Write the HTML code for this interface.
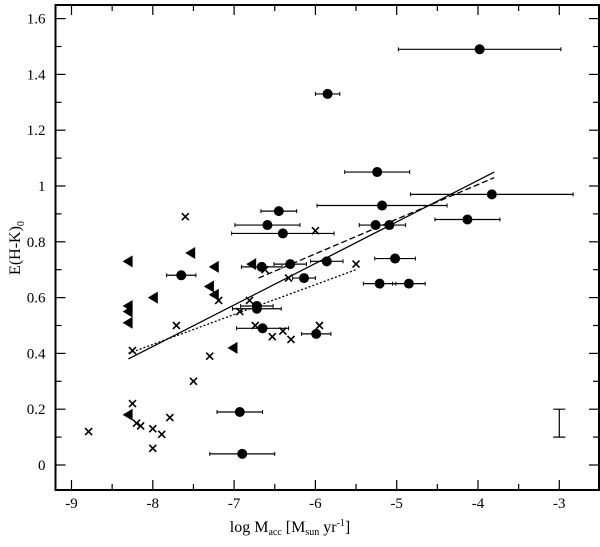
<!DOCTYPE html>
<html><head><meta charset="utf-8"><style>
body{margin:0;background:#fff}
svg text{font-family:"Liberation Serif",serif;fill:#000}
</style></head><body>
<svg id="chart" width="600" height="542" xmlns="http://www.w3.org/2000/svg">
<g id="marks"></g>
<text x="290" y="532" font-size="16" text-anchor="middle">log M<tspan font-size="10" dy="3">acc</tspan><tspan dy="-3"> [M</tspan><tspan font-size="10" dy="3">sun</tspan><tspan dy="-3"> yr</tspan><tspan font-size="10" dy="-6">-1</tspan><tspan dy="6">]</tspan></text>
<text transform="translate(20,248) rotate(-90)" font-size="16" text-anchor="middle">E(H-K)<tspan font-size="10" dy="4">0</tspan></text>
</svg>
<script>
const circX=[-3.98,-5.85,-5.24,-3.83,-5.18,-6.45,-6.59,-6.4,-5.26,-5.09,-4.13,-5.02,-5.86,-6.31,-6.66,-6.14,-5.21,-4.85,-7.65,-6.72,-6.72,-6.65,-5.99,-6.93,-6.9];
const circY=[1.49,1.33,1.05,0.97,0.93,0.91,0.86,0.83,0.86,0.86,0.88,0.74,0.73,0.72,0.71,0.67,0.65,0.65,0.68,0.57,0.56,0.49,0.47,0.19,0.04];
const circErr=[1.0,0.15,0.4,1.0,0.8,0.22,0.4,0.63,0.2,0.2,0.4,0.25,0.2,0.2,0.25,0.14,0.2,0.2,0.18,0.2,0.3,0.32,0.18,0.28,0.4];
const triX=[-8.31,-8.31,-8.31,-8.31,-8.31,-8.0,-7.54,-7.25,-7.31,-7.25,-7.02,-6.79];
const triY=[0.73,0.57,0.55,0.51,0.18,0.6,0.76,0.71,0.64,0.61,0.42,0.72];
const crossX=[-8.79,-8.25,-8.2,-8.15,-8.0,-8.0,-7.89,-7.79,-8.25,-7.71,-7.5,-7.6,-7.3,-7.19,-6.93,-6.81,-6.74,-6.53,-6.4,-6.3,-5.95,-6.33,-6.0,-6.62,-5.5];
const crossY=[0.12,0.22,0.15,0.14,0.13,0.06,0.11,0.17,0.41,0.5,0.3,0.89,0.39,0.59,0.55,0.59,0.5,0.46,0.48,0.45,0.5,0.67,0.84,0.70,0.72];
const fitSolid=[[-8.3,0.38],[-3.8,1.05]];
const fitDashed=[[-6.7,0.67],[-3.8,1.03]];
const fitDotted=[[-8.3,0.40],[-5.5,0.70]];
const xTicks=[-9,-8,-7,-6,-5,-4,-3];
const yTicks=[0,0.2,0.4,0.6,0.8,1,1.2,1.4,1.6];
const L=55.5,R=599,T=5,B=490;
const X=v=>71.5+(v+9)*81.3;
const Y=v=>465-v*279;
const NS="http://www.w3.org/2000/svg";
const g=document.getElementById('marks');
function mk(t,a){const e=document.createElementNS(NS,t);for(const k in a)e.setAttribute(k,a[k]);g.appendChild(e);return e;}
let e=mk('rect',{x:L,y:T,width:R-L,height:B-T,fill:'none',stroke:'#000','stroke-width':2});


for(let v=-9;v<=-2.6;v+=0.5){const major=Math.abs(v-Math.round(v))<0.01;const len=major?10:6;
 mk('line',{x1:X(v),x2:X(v),y1:B,y2:B-len,stroke:'#000','stroke-width':1.2});
 mk('line',{x1:X(v),x2:X(v),y1:T,y2:T+len,stroke:'#000','stroke-width':1.2});}
xTicks.forEach(v=>{e=mk('text',{x:X(v),y:508,'font-size':15,'text-anchor':'middle'});e.textContent=String(v);
 
 });
for(let i=-1;i<=16;i++){const v=i/10;const y=Y(v);if(y<T||y>B)continue;const len=i%2==0?10:6;
 mk('line',{x1:L,x2:L+len,y1:y,y2:y,stroke:'#000','stroke-width':1.2});
 mk('line',{x1:R,x2:R-len,y1:y,y2:y,stroke:'#000','stroke-width':1.2});}
yTicks.forEach(v=>{e=mk('text',{x:L-10,y:Y(v)+5,'font-size':15,'text-anchor':'end'});e.textContent=String(v);
 
 });
function line(p,dash,name){e=mk('line',{x1:X(p[0][0]),y1:Y(p[0][1]),x2:X(p[1][0]),y2:Y(p[1][1]),stroke:'#000','stroke-width':1.3,'stroke-dasharray':dash});
 
 }
line(fitSolid,'none','fit-line-solid');line(fitDashed,'6,3','fit-line-dashed');line(fitDotted,'2,2','fit-line-dotted');
circX.forEach((x,i)=>{const y=Y(circY[i]);
 mk('line',{x1:X(x-circErr[i]),x2:X(x+circErr[i]),y1:y,y2:y,stroke:'#000','stroke-width':1.2});
 mk('line',{x1:X(x-circErr[i]),x2:X(x-circErr[i]),y1:y-2,y2:y+2,stroke:'#000'});
 mk('line',{x1:X(x+circErr[i]),x2:X(x+circErr[i]),y1:y-2,y2:y+2,stroke:'#000'});
 e=mk('circle',{cx:X(x),cy:y,r:5,fill:'#000'});
 
 });
triX.forEach((x,i)=>{const cx=X(x),cy=Y(triY[i]);
 e=mk('polygon',{points:`${cx-5},${cy} ${cx+5},${cy-6} ${cx+5},${cy+6}`,fill:'#000'});
 
 });
crossX.forEach((x,i)=>{const cx=X(x),cy=Y(crossY[i]);
 e=mk('path',{d:`M${cx-3.5},${cy-3.5}L${cx+3.5},${cy+3.5}M${cx-3.5},${cy+3.5}L${cx+3.5},${cy-3.5}`,stroke:'#000','stroke-width':1.6});
 
 });
const ex=X(-3.0);
e=mk('path',{d:`M${ex},${Y(0.2)}V${Y(0.1)}M${ex-6},${Y(0.2)}H${ex+6}M${ex-6},${Y(0.1)}H${ex+6}`,stroke:'#000','stroke-width':1.2,fill:'none'});


</script>
</body></html>
